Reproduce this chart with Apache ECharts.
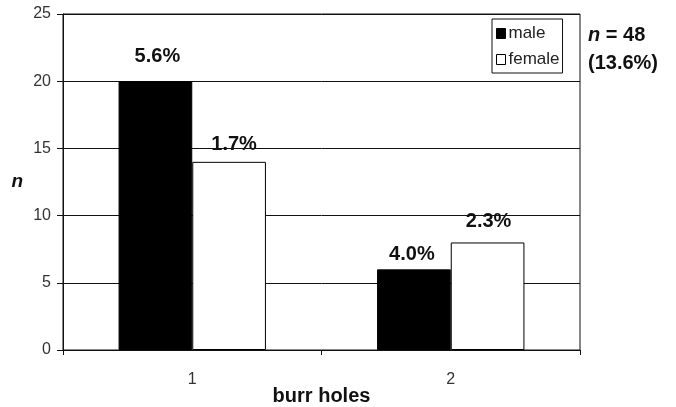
<!DOCTYPE html>
<html>
<head>
<meta charset="utf-8">
<script src="https://cdn.jsdelivr.net/npm/echarts@6/dist/echarts.min.js"></script>
<style>html,body{margin:0;padding:0;background:#fff}#c{width:676px;height:407px}</style>
</head>
<body>
<div id="c"></div>
<script>
var categories = ['1', '2'];
var maleValues = [20, 6];
var femaleValues = [14, 8];
var maleLabels = ['5.6%', '4.0%'];
var femaleLabels = ['1.7%', '2.3%'];
var yTicks = [0, 5, 10, 15, 20, 25];

var FONT = '"Liberation Sans", Arial, sans-serif';
var maleLabelDist = [15, 5];
var maleLabelDx = [2, -2];
var femaleLabelDist = [7, 11];
var femaleLabelDx = [5, 1];

function mkData(vals, texts, dist, dx) {
  return vals.map(function (v, i) {
    return {
      value: v,
      label: { formatter: texts[i], distance: dist[i], offset: [dx[i], 0] }
    };
  });
}

var labelStyle = {
  show: true, position: 'top', fontFamily: FONT, fontWeight: 'bold',
  fontSize: 20, color: '#111'
};

var chart = echarts.init(document.getElementById('c'), null, { renderer: 'canvas' });
chart.setOption({
  animation: false,
  backgroundColor: '#fff',
  grid: {
    left: 63, right: 96, top: 14, bottom: 57, containLabel: false, outerBoundsMode: 'none',
    show: true, borderColor: '#111', borderWidth: 1, backgroundColor: 'transparent'
  },
  legend: {
    orient: 'vertical', left: 492, top: 19,
    padding: [6, 3, 5, 4], itemGap: 9,
    itemWidth: 9, itemHeight: 10,
    backgroundColor: '#fff', borderColor: '#111', borderWidth: 1, borderRadius: 0,
    textStyle: { fontFamily: FONT, fontSize: 17, color: '#222', padding: [0, 0, 0, -2] },
    data: [
      { name: 'male', icon: 'rect', itemStyle: { color: '#000', borderColor: '#000', borderWidth: 1 } },
      { name: 'female', icon: 'rect', itemStyle: { color: '#fff', borderColor: '#000', borderWidth: 1 } }
    ]
  },
  xAxis: {
    type: 'category', data: categories,
    name: 'burr holes', nameLocation: 'middle', nameGap: 36, nameMoveOverlap: false,
    nameTextStyle: { fontFamily: FONT, fontWeight: 'bold', fontSize: 20, color: '#111' },
    axisLine: { lineStyle: { color: '#111', width: 1 } },
    axisTick: { show: true, length: 5, lineStyle: { color: '#111' } },
    axisLabel: { fontFamily: FONT, fontSize: 16, color: '#333', margin: 22 },
    splitLine: { show: false }
  },
  yAxis: {
    type: 'value', min: 0, max: 25, interval: 5,
    name: 'n', nameLocation: 'middle', nameGap: 40, nameRotate: 0, nameMoveOverlap: false,
    nameTextStyle: { fontFamily: FONT, fontWeight: 'bold', fontStyle: 'italic', fontSize: 19, color: '#111', padding: [6, 0, 0, 0] },
    axisLine: { show: true, lineStyle: { color: '#111', width: 1 } },
    axisTick: { show: true, length: 6, lineStyle: { color: '#111' } },
    axisLabel: {
      fontFamily: FONT, fontSize: 16, color: '#333', margin: 12,
      formatter: function (v) { return yTicks.indexOf(v) >= 0 ? String(v) : ''; }
    },
    splitLine: { show: true, lineStyle: { color: '#111', width: 1 } }
  },
  series: [
    {
      name: 'male', type: 'bar', barGap: '0%', barCategoryGap: '43%',
      itemStyle: { color: '#000', borderColor: '#000', borderWidth: 1 },
      label: labelStyle,
      data: mkData(maleValues, maleLabels, maleLabelDist, maleLabelDx)
    },
    {
      name: 'female', type: 'bar', barGap: '0%', barCategoryGap: '43%',
      itemStyle: { color: '#fff', borderColor: '#000', borderWidth: 1 },
      label: labelStyle,
      data: mkData(femaleValues, femaleLabels, femaleLabelDist, femaleLabelDx)
    }
  ],
  graphic: [
    {
      type: 'text', left: 588, top: 21,
      style: {
        text: '{i|n} = 48\n(13.6%)',
        fontFamily: FONT, fontWeight: 'bold', fontSize: 20, fill: '#111', lineHeight: 28,
        rich: { i: { fontStyle: 'italic', fontWeight: 'bold', fontFamily: FONT, fontSize: 20, fill: '#111' } }
      }
    }
  ]
});
</script>
</body>
</html>
